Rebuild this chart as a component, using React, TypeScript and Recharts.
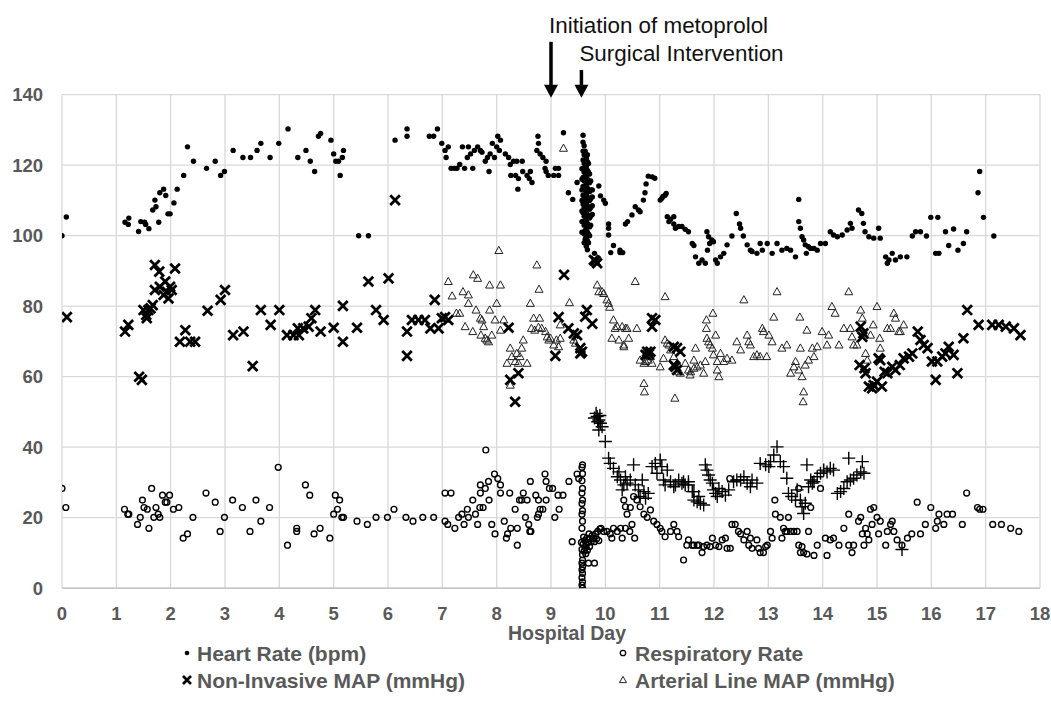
import { ScatterChart, Scatter, XAxis, YAxis, CartesianGrid, ReferenceLine, Legend } from "recharts";

type Pt = [number, number];

const dayTicks = [0, 1, 2, 3, 4, 5, 6, 7, 8, 9, 10, 11, 12, 13, 14, 15, 16, 17, 18];
const valueTicks = [0, 20, 40, 60, 80, 100, 120, 140];

const heartRate: Pt[] = [
  [0, 100], [0.08, 105.3], [1.16, 103.8], [1.22, 103.2], [1.23, 105], [1.41, 101.2], [1.45, 104], [1.52, 103.8],
  [1.54, 103.2], [1.6, 102], [1.67, 107.3], [1.71, 110.1], [1.73, 108.2], [1.78, 103.8], [1.8, 112.2], [1.87, 113.2],
  [1.91, 111.4], [1.95, 106.2], [1.99, 106.2], [2.06, 109.3], [2.12, 113.2], [2.24, 117.1], [2.31, 125.2], [2.42, 121.1],
  [2.66, 119.1], [2.82, 121.1], [2.92, 117.1], [2.99, 118.2], [3.15, 124.2], [3.33, 122.2], [3.47, 122.2], [3.59, 124.2],
  [3.66, 126.2], [3.83, 122.2], [3.99, 126.2], [4.16, 130.3], [4.34, 122.2], [4.49, 124.2], [4.57, 121.1], [4.65, 118.2],
  [4.72, 128.2], [4.76, 129], [4.95, 127.1], [5.0, 123.2], [5.04, 121.1], [5.09, 121.1], [5.12, 117.1], [5.16, 122.2],
  [5.18, 124.2], [5.46, 100], [5.64, 100], [6.13, 127.1], [6.35, 130.3], [6.35, 128.2], [6.76, 128.2], [6.84, 128.2],
  [6.91, 130.3], [6.99, 126.2], [7.05, 124.2], [7.11, 125.2], [7.07, 122.2], [7.16, 119.1], [7.22, 119.1], [7.27, 119.1],
  [7.32, 120.2], [7.37, 125.2], [7.48, 125.2], [7.41, 119.1], [7.56, 119.1], [7.46, 122.2], [7.52, 123.2], [7.59, 124.2],
  [7.65, 125.2], [7.7, 124.2], [7.73, 123.7], [7.79, 121.1], [7.83, 122.2], [7.86, 118.2], [7.88, 123.2], [7.92, 126.2],
  [7.96, 122.2], [8.02, 128.2], [8.07, 127.1], [8.05, 124.2], [8.0, 125.2], [8.16, 123.2], [8.22, 122.2], [8.25, 120.2],
  [8.31, 121.1], [8.37, 121.1], [8.47, 121.1], [8.26, 117.1], [8.35, 117.1], [8.4, 116.2], [8.39, 113.2], [8.48, 118.2],
  [8.56, 117.1], [8.6, 116.2], [8.65, 115.1], [8.62, 118.2], [8.76, 128.2], [8.77, 126.2], [8.74, 124.2], [8.8, 123.2],
  [8.85, 122.2], [8.91, 121.1], [8.89, 119.1], [8.95, 117.1], [8.91, 118.2], [9.05, 117.1], [9.14, 117.1], [9.08, 119.1],
  [9.14, 119.1], [9.23, 129.2], [9.32, 112.2], [9.4, 110.3], [9.48, 115.1],
  [9.88, 114.1], [9.91, 111.3], [9.97, 110.1], [10.0, 109.2], [10.06, 103.3], [10.06, 102.1], [10.06, 100.2], [10.15, 97.2],
  [10.1, 95.2], [10.27, 95.2], [10.32, 95.2], [10.27, 95.9], [10.37, 103.3], [10.41, 104], [10.49, 105.9], [10.55, 108.2],
  [10.61, 107.3], [10.64, 106.8], [10.7, 110.1], [10.73, 112.2], [10.75, 114.7], [10.79, 116.9], [10.86, 116.7], [10.91, 116.3],
  [11.01, 110.1], [11.06, 111.1], [11.1, 111.5], [11.12, 112], [11.04, 110.6], [11.14, 105.4], [11.2, 104.7], [11.26, 105.4],
  [11.26, 103.3], [11.29, 102.1], [11.35, 102.6], [11.41, 102.6], [11.47, 101.8], [11.53, 101.1], [11.17, 104], [11.6, 97.8],
  [11.63, 97.2], [11.66, 94], [11.72, 92.2], [11.78, 93.1], [11.84, 92.2], [11.87, 101.1], [11.9, 99.7], [11.92, 97.8],
  [11.96, 98.8], [11.99, 98.3], [11.88, 95.9], [12.03, 93.1], [12.06, 92.2], [12.12, 94], [12.18, 95], [12.24, 97.4],
  [12.33, 99.9], [12.41, 106.3], [12.47, 103.3], [12.49, 102.1], [12.54, 99.9], [12.61, 97.4], [12.67, 95.9], [12.7, 95.5],
  [12.79, 95], [12.85, 97.8], [12.89, 95.9], [12.98, 97.8], [13.07, 95], [13.16, 97.8], [13.25, 95.9], [13.34, 96.4],
  [13.41, 95.9], [13.5, 94], [13.56, 110.3], [13.56, 104], [13.59, 102.1], [13.62, 99.7], [13.65, 98.8], [13.68, 97.4],
  [13.7, 95], [13.74, 96.9], [13.78, 96.4], [13.84, 96.4], [13.9, 95.9], [13.96, 97.8], [14.05, 97.8], [14.14, 101.1],
  [14.2, 100.2], [14.27, 99.7], [14.36, 100.2], [14.45, 101.6], [14.51, 103.5], [14.54, 102.1], [14.66, 107.3], [14.72, 106.3],
  [14.75, 103.5], [14.78, 101.1], [14.85, 99.7], [14.94, 99.3], [15.03, 102.1], [15.06, 99.3], [15.16, 94], [15.19, 92.2],
  [15.28, 95], [15.34, 93.1], [15.43, 94], [15.55, 94], [15.22, 93.1], [15.65, 99.9], [15.71, 101.1], [15.8, 101.1],
  [15.91, 99.9], [15.99, 105.2], [16.12, 105.2], [16.08, 95], [16.14, 95], [16.26, 101.1], [16.32, 97.2], [16.41, 101.9],
  [16.49, 95.9], [16.59, 97.8], [16.65, 101.1], [16.86, 112.2], [16.89, 118.2], [16.96, 105.2], [17.15, 99.9],
];

// dense readings around the surgery (day ~9.6)
const heartRatePeriOp: Pt[] = [
  [9.57, 101], [9.57, 104], [9.57, 107], [9.57, 110], [9.57, 113], [9.57, 116], [9.57, 119],
  [9.59, 104], [9.59, 106.5], [9.59, 109], [9.59, 111.5], [9.59, 114], [9.59, 116.5], [9.59, 119], [9.59, 121.5], [9.59, 124], [9.59, 126.5], [9.59, 128.5],
  [9.61, 98], [9.61, 100.5], [9.61, 103], [9.61, 105.5], [9.61, 108], [9.61, 110.5], [9.61, 113], [9.61, 115.5], [9.61, 118], [9.61, 120.5], [9.61, 123], [9.61, 125.5],
  [9.63, 99], [9.63, 101.5], [9.63, 104], [9.63, 106.5], [9.63, 109], [9.63, 111.5], [9.63, 114], [9.63, 116.5], [9.63, 119], [9.63, 121.5], [9.63, 124],
  [9.65, 97], [9.65, 99.5], [9.65, 102], [9.65, 104.5], [9.65, 107], [9.65, 109.5], [9.65, 112], [9.65, 114.5], [9.65, 117], [9.65, 119.5], [9.65, 122],
  [9.67, 96], [9.67, 98.5], [9.67, 101], [9.67, 103.5], [9.67, 106], [9.67, 108.5], [9.67, 111], [9.67, 113.5], [9.67, 116], [9.67, 118.5], [9.67, 121], [9.67, 123],
  [9.69, 98], [9.69, 100.5], [9.69, 103], [9.69, 105.5], [9.69, 108], [9.69, 110.5], [9.69, 113], [9.69, 115.5], [9.69, 118], [9.69, 120.5],
  [9.71, 100], [9.71, 102.5], [9.71, 105], [9.71, 107.5], [9.71, 110], [9.71, 112.5], [9.71, 115], [9.71, 117.5],
  [9.73, 103], [9.73, 105.5], [9.73, 108], [9.73, 110.5], [9.73, 113], [9.73, 115.5],
  [9.76, 106], [9.76, 108.5], [9.76, 111], [9.76, 113], [9.8, 93], [9.8, 95],
];

const respiratoryRate: Pt[] = [
  [0, 28.3], [0.07, 22.9], [1.15, 22.4], [1.21, 21], [1.23, 21], [1.39, 18.1], [1.44, 20.1], [1.48, 25], [1.51, 22.9],
  [1.57, 22.4], [1.6, 17], [1.65, 28.3], [1.69, 20.1], [1.73, 22.9], [1.77, 21], [1.8, 20.1], [1.85, 26.4], [1.9, 24.4],
  [1.93, 24.4], [1.98, 26.4], [2.05, 22.4], [2.15, 22.9], [2.23, 14.2], [2.31, 15.4], [2.41, 20.1], [2.65, 27], [2.82, 24.4],
  [2.91, 16.1], [2.99, 20.1], [3.14, 25], [3.32, 22.9], [3.46, 16.1], [3.57, 25], [3.66, 19], [3.82, 22.9], [3.98, 34.3],
  [4.15, 12.2], [4.32, 17], [4.32, 16.1], [4.48, 29.3], [4.56, 26.4], [4.64, 15.4], [4.75, 17], [4.93, 14.2], [5.0, 21],
  [5.03, 26.4], [5.07, 22.4], [5.11, 25], [5.15, 20.1], [5.18, 20.1], [5.43, 19], [5.62, 18.1], [5.78, 20.1], [5.99, 20.1],
  [6.11, 22.4], [6.33, 20.1], [6.46, 19], [6.64, 20.1], [6.84, 20.1], [7.05, 27], [7.16, 27], [7.05, 19], [7.1, 18.1],
  [7.23, 17], [7.3, 20.1], [7.36, 21], [7.4, 18.1], [7.46, 22.4], [7.48, 20.1], [7.56, 25], [7.61, 21], [7.65, 18.1],
  [7.7, 27], [7.7, 29.3], [7.69, 22.9], [7.75, 22.9], [7.79, 28.3], [7.8, 39.2], [7.85, 30.3], [7.86, 25], [7.91, 18.1],
  [7.96, 32.4], [7.97, 15.4], [8.02, 31.1], [8.07, 29.3], [8.07, 27], [8.14, 19], [8.18, 14.2], [8.2, 15.4], [8.24, 27],
  [8.26, 17], [8.34, 22.4], [8.38, 17], [8.38, 12.2], [8.42, 25], [8.46, 25], [8.49, 27], [8.53, 20.1], [8.56, 25],
  [8.59, 18.1], [8.61, 16.1], [8.63, 16.1], [8.62, 30.3], [8.72, 26.4], [8.75, 20.1], [8.77, 25], [8.77, 21], [8.8, 22.4],
  [8.85, 22.4], [8.89, 32.4], [8.91, 30.3], [8.91, 25], [8.97, 28.3], [9.03, 28.3], [9.07, 20.1], [9.13, 26.4], [9.15, 22.4],
  [9.22, 26.4], [9.33, 30.3], [9.39, 13.2], [9.48, 32.4], [9.51, 31.1],
  [9.58, 35], [9.57, 34.3], [9.58, 32.5], [9.57, 30.5], [9.58, 28.3], [9.57, 27], [9.58, 25], [9.57, 24], [9.58, 22],
  [9.57, 21], [9.58, 19], [9.57, 17], [9.58, 8], [9.57, 7.1], [9.58, 6.1], [9.57, 5.2], [9.58, 4.2], [9.57, 3],
  [9.58, 1.8], [9.57, 0.9], [9.58, 0],
  [9.56, 13], [9.57, 11], [9.58, 9.5], [9.59, 12.5], [9.6, 14.5], [9.61, 10.5], [9.62, 13.5], [9.63, 11.5], [9.64, 9.8],
  [9.65, 12.3], [9.66, 14.2], [9.67, 10.8], [9.68, 13], [9.7, 15.4], [9.71, 11.8], [9.72, 14], [9.74, 13.2], [9.76, 15],
  [9.78, 14.2], [9.8, 13.2], [9.82, 15.4], [9.84, 14], [9.86, 16.1], [9.88, 13.5], [9.69, 7.1], [9.8, 7.1], [9.9, 16.8],
  [9.92, 17], [9.97, 16.1], [10.03, 16.1], [10.09, 15.4], [10.12, 14.2], [10.15, 17], [10.22, 16.1], [10.28, 17], [10.31, 14.2],
  [10.37, 17], [10.45, 16.1], [10.49, 18.1], [10.54, 14.2], [10.34, 25], [10.37, 23.1], [10.4, 21], [10.46, 22.9], [10.52, 26],
  [10.58, 25], [10.64, 23.1], [10.71, 21], [10.77, 20.1], [10.83, 22.2], [10.89, 19], [10.95, 18.1], [11.01, 17], [11.04, 16.1],
  [11.1, 14.6], [11.2, 16.1], [11.26, 18.1], [11.32, 16.1], [11.35, 14.6], [11.44, 8], [11.5, 12.2], [11.6, 12.2], [11.69, 12.2],
  [11.53, 13.7], [11.63, 12.2], [11.72, 12.2], [11.78, 10.1], [11.81, 11.8], [11.87, 12.2], [11.93, 11.8], [11.97, 14.2],
  [12.03, 12.2], [12.09, 11.8], [12.15, 13.7], [12.21, 14.2], [12.24, 11.3], [12.29, 31.1], [12.3, 11.3], [12.33, 18.1],
  [12.39, 18.1], [12.45, 16.1], [12.49, 15.4], [12.55, 13.7], [12.61, 16.1], [12.64, 12.2], [12.67, 14.2], [12.7, 11.3],
  [12.79, 13.7], [12.82, 11.3], [12.85, 10.1], [12.91, 10.1], [12.95, 11.8], [12.98, 12.2], [13.04, 16.1], [13.07, 14.2],
  [13.12, 25], [13.13, 21], [13.22, 20.1], [13.25, 14.2], [13.28, 17], [13.31, 16.1], [13.34, 16.1], [13.37, 20.1],
  [13.41, 16.1], [13.47, 16.1], [13.53, 16.1], [13.56, 28.3], [13.56, 12.2], [13.59, 10.1], [13.62, 11.8], [13.65, 10.1],
  [13.71, 9.7], [13.74, 16.1], [13.78, 22.9], [13.84, 9.3], [13.9, 12.2], [13.96, 28.3], [14.05, 14.2], [14.08, 9.3],
  [14.14, 13.7], [14.2, 14.2], [14.3, 12.2], [14.39, 17], [14.48, 21], [14.48, 12.2], [14.54, 10.1], [14.57, 12.2],
  [14.66, 19], [14.7, 20.1], [14.73, 15.4], [14.76, 12.2], [14.79, 17], [14.82, 15.4], [14.85, 13.7], [14.88, 22.4],
  [14.91, 18.1], [14.94, 22.9], [15.0, 20.1], [15.03, 15.4], [15.06, 19], [15.16, 12.2], [15.19, 16.1], [15.25, 18.1],
  [15.28, 19], [15.31, 16.1], [15.37, 13.7], [15.46, 12.2], [15.56, 14.2], [15.64, 15.4], [15.74, 24.4], [15.8, 15.4],
  [15.89, 18.1], [15.99, 22.9], [16.08, 17], [16.11, 19], [16.14, 21], [16.23, 18.1], [16.29, 21], [16.39, 21],
  [16.57, 18.1], [16.65, 27], [16.85, 22.9], [16.89, 22.4], [16.95, 22.4], [17.13, 18.1], [17.29, 18.1], [17.46, 17],
  [17.61, 16.1],
];

const nonInvasiveMap: Pt[] = [
  [0.09, 76.9], [1.16, 72.8], [1.22, 74.7], [1.42, 60], [1.47, 59.1], [1.5, 78.9], [1.55, 77.5], [1.59, 78.9], [1.56, 76.6],
  [1.63, 79.4], [1.67, 80.3], [1.71, 91.7], [1.79, 89.8], [1.71, 84.6], [1.8, 85.5], [1.87, 83.2], [1.93, 84.1], [1.96, 82.2],
  [1.99, 85.5], [2.02, 84.6], [2.08, 90.7], [1.9, 87], [2.17, 69.9], [2.27, 73.2], [2.36, 69.9], [2.45, 69.9], [2.68, 78.7],
  [2.92, 81.8], [3.0, 84.6], [3.15, 71.8], [3.34, 72.8], [3.51, 63], [3.66, 78.9], [3.84, 74.7], [4.0, 78.9], [4.14, 71.8],
  [4.26, 71.8], [4.34, 73.7], [4.36, 71.8], [4.44, 73.7], [4.54, 74.2], [4.59, 76.6], [4.66, 78.9], [4.76, 72.8], [5.0, 73.9],
  [5.17, 80.1], [5.17, 69.9], [5.43, 73.9], [5.64, 87], [5.78, 78.9], [5.92, 76.1], [6.01, 87.9], [6.13, 110.1], [6.35, 72.8],
  [6.35, 65.9], [6.44, 76.1], [6.56, 76.1], [6.68, 76.1], [6.78, 73.7], [6.86, 81.8], [6.93, 73.7], [6.99, 76.6], [7.05, 76.9],
  [7.11, 76.1], [8.22, 73.9], [8.25, 59.1], [8.4, 61], [8.34, 52.9], [9.08, 65.9], [9.14, 76.9], [9.24, 88.9], [9.32, 73.7],
  [9.42, 72.3], [9.48, 71.8], [9.54, 68.1], [9.57, 67.1], [9.54, 66.6], [9.66, 78.9], [9.63, 77], [9.76, 75], [9.79, 93.1],
  [9.85, 92.2], [9.82, 92.8], [10.86, 76.6], [10.86, 74.2], [10.92, 76.1], [10.77, 67.1], [10.8, 66.4], [10.83, 67.1],
  [10.74, 66.2], [11.26, 68.5], [11.32, 68.1], [11.38, 67.1], [11.29, 62.8], [11.32, 61.9], [11.26, 63.3],
  [14.7, 74.2], [14.75, 72.3], [14.73, 71.3], [14.68, 63.3], [14.77, 62.4], [14.79, 61], [14.85, 57.2], [14.91, 56.7],
  [14.94, 57.6], [15.0, 58.6], [15.03, 65.2], [15.09, 57.2], [15.06, 64.7], [15.14, 61.4], [15.19, 61], [15.28, 62.8],
  [15.34, 61.9], [15.42, 63.3], [15.49, 65.2], [15.59, 65.7], [15.65, 66.6], [15.75, 72.8], [15.8, 70.4], [15.86, 69],
  [15.93, 68.1], [16.01, 64.3], [16.08, 59.1], [16.11, 64.3], [16.2, 65.7], [16.26, 66.6], [16.32, 68.5], [16.41, 66.2],
  [16.48, 61], [16.59, 70.9], [16.66, 78.9], [16.87, 74.7], [17.12, 74.7], [17.24, 74.7], [17.37, 74.2], [17.52, 73.7],
  [17.64, 71.8],
];

const arterialLineMap: Pt[] = [
  [7.11, 87], [7.18, 82.9], [7.26, 78], [7.32, 78], [7.38, 84.1], [7.42, 74.2], [7.48, 83.2], [7.48, 80.8], [7.56, 72.8],
  [7.57, 88.9], [7.65, 87.9], [7.62, 78.9], [7.7, 76.6], [7.73, 76.1], [7.76, 74.2], [7.71, 71.8], [7.79, 70.9], [7.82, 70.4],
  [7.85, 69.9], [7.87, 86], [7.87, 78.9], [7.91, 71.8], [7.97, 76.1], [8.0, 80.8], [8.07, 86], [8.04, 95.8], [8.07, 73.2],
  [8.13, 76.1], [8.25, 68.1], [8.28, 65.7], [8.37, 66.6], [8.4, 63.8], [8.43, 65.7], [8.46, 68.1], [8.49, 70.4], [8.56, 63.8],
  [8.19, 63.8], [8.34, 64.3], [8.25, 57.6], [8.62, 80.8], [8.64, 73.7], [8.68, 76.6], [8.7, 73.2], [8.77, 74], [8.79, 76.6],
  [8.83, 73.7], [8.9, 72.8], [8.93, 71.3], [8.96, 70.4], [8.99, 70.9], [9.05, 69], [9.1, 70.4], [9.14, 68.5], [9.17, 70.9],
  [9.17, 74.7], [8.74, 91.7], [8.78, 84.8], [9.23, 124.8], [9.34, 81], [9.42, 70.4], [9.45, 69.5], [9.85, 86], [9.88, 84.1],
  [9.94, 84.1], [9.97, 83.6], [10.03, 81.8], [10.06, 80.8], [10.08, 79.7], [10.15, 76.1], [10.18, 73.7], [10.22, 74.2],
  [10.31, 74.2], [10.37, 73.7], [10.4, 73.7], [10.12, 70.9], [10.25, 70.4], [10.34, 69], [10.43, 70.9], [10.55, 87],
  [10.58, 73.7], [10.34, 68.5], [10.64, 64.7], [10.71, 63.8], [10.74, 64.3], [10.71, 58.1], [10.72, 55.7], [10.79, 64.7],
  [10.86, 63.8], [10.83, 65.7], [11.01, 62.8], [11.07, 65.2], [11.1, 70.4], [11.1, 82.7], [11.14, 69.5], [11.17, 69],
  [11.2, 67.6], [11.26, 65.7], [11.28, 53.9], [11.32, 63.8], [11.35, 61.4], [11.38, 61], [11.47, 63.8], [11.53, 61.9],
  [11.56, 60.5], [11.63, 62.4], [11.69, 62.8], [11.66, 68.1], [11.63, 64.7], [11.57, 61.4], [11.75, 63.3], [11.81, 61],
  [11.84, 64.3], [11.86, 76.1], [11.86, 73.7], [11.87, 70.9], [11.9, 69.9], [11.93, 69], [11.97, 68.1], [11.98, 78],
  [11.99, 66.2], [12.03, 71.8], [12.06, 64.3], [12.06, 61.9], [12.09, 60], [12.12, 66.6], [12.18, 64.3], [12.24, 65.2],
  [12.33, 64.7], [12.42, 69.9], [12.49, 67.6], [12.55, 81.8], [12.61, 71.8], [12.64, 69.9], [12.67, 69], [12.73, 65.7],
  [12.79, 66.2], [12.85, 65.7], [12.89, 73.7], [12.91, 72.8], [12.97, 65.7], [13.01, 71.8], [13.07, 69.9], [13.1, 76.9],
  [13.16, 84.1], [13.25, 68.1], [13.34, 69], [13.41, 61], [13.47, 62.8], [13.5, 64.3], [13.56, 61.9], [13.58, 76.9],
  [13.59, 68.1], [13.62, 60], [13.65, 55.7], [13.64, 52.9], [13.68, 63.3], [13.71, 73.2], [13.74, 64.7], [13.81, 68.1],
  [13.84, 65.7], [13.9, 68.5], [13.99, 72.8], [14.08, 69], [14.11, 71.8], [14.17, 79.9], [14.23, 78], [14.3, 69],
  [14.39, 73.7], [14.48, 84.1], [14.51, 73.7], [14.54, 71.3], [14.57, 69], [14.63, 69], [14.7, 78.9], [14.73, 76.6],
  [14.79, 66.6], [14.82, 64.7], [14.88, 71.8], [14.93, 74.7], [15.0, 79.9], [15.05, 70.9], [15.06, 68.1], [15.19, 73.7],
  [15.25, 73.7], [15.31, 78], [15.34, 76.6], [15.4, 72.8], [15.43, 72.8], [15.49, 74.7],
];

// "+" series that has no legend entry
const unlabeledPlus: Pt[] = [
  [9.83, 49.6], [9.85, 48.7], [9.88, 47.7], [9.91, 46.8], [9.94, 45.8], [9.88, 44.9], [9.8, 48.3], [9.86, 47.2], [9.9, 49],
  [10.0, 41.6], [10.06, 36.9], [10.09, 35.4], [10.15, 34], [10.22, 31.6], [10.25, 33], [10.28, 30.7], [10.34, 29.3],
  [10.37, 31.6], [10.4, 29.8], [10.31, 27.9], [10.46, 30.7], [10.52, 35], [10.55, 29.3], [10.61, 27.9], [10.64, 26],
  [10.68, 30.7], [10.71, 27.4], [10.74, 25.5], [10.79, 26.9], [10.86, 34.5], [10.92, 35.4], [10.95, 32.6], [11.01, 36.4],
  [11.04, 34.5], [11.07, 30.7], [11.1, 29.3], [11.14, 33.5], [11.2, 30.2], [11.26, 28.8], [11.29, 29.3], [11.35, 30.7],
  [11.41, 29.8], [11.47, 29.3], [11.53, 30.2], [11.6, 27.4], [11.63, 25], [11.69, 24.5], [11.44, 30.2], [11.53, 29.3],
  [11.63, 27.4], [11.72, 26], [11.75, 24.1], [11.81, 23.6], [11.84, 35], [11.87, 33.5], [11.9, 32.1], [11.93, 30.7],
  [11.97, 29.8], [11.99, 27.9], [12.03, 26.9], [12.06, 26], [12.09, 28.3], [12.15, 27.4], [12.21, 26.4], [12.27, 27.9],
  [12.36, 30.2], [12.42, 30.7], [12.49, 30.7], [12.55, 31.6], [12.61, 29.8], [12.67, 28.8], [12.7, 30.7], [12.79, 29.8],
  [12.85, 35.4], [12.95, 35], [13.01, 34.5], [13.04, 35.9], [13.1, 37.8], [13.16, 40.1], [13.22, 35.9], [13.28, 34.5],
  [13.34, 31.2], [13.37, 26.9], [13.43, 26], [13.5, 25], [13.53, 27.9], [13.59, 25], [13.62, 23.1], [13.65, 21.2],
  [13.68, 24.1], [13.71, 35], [13.74, 28.8], [13.78, 30.7], [13.81, 29.8], [13.84, 30.2], [13.9, 31.6], [13.96, 32.6],
  [14.02, 33.5], [14.08, 33], [14.14, 34], [14.2, 33.5], [14.27, 26.9], [14.33, 27.4], [14.39, 28.3], [14.45, 30.2],
  [14.48, 36.9], [14.51, 30.7], [14.57, 31.2], [14.63, 32.1], [14.7, 33], [14.73, 35.9], [14.76, 32.6], [15.46, 11],
];

const events = [
  { day: 9, top: 155, label: "Initiation of metoprolol" },
  { day: 9.56, top: 147, label: "Surgical Intervention" },
];

const legendItems = [
  { name: "Heart Rate (bpm)", kind: "dot" },
  { name: "Respiratory Rate", kind: "ring" },
  { name: "Non-Invasive MAP (mmHg)", kind: "cross" },
  { name: "Arterial Line MAP (mmHg)", kind: "tri" },
];

const FONT = "'Liberation Sans', Arial, sans-serif";
const AXIS_GRAY = "#595959";

const toRows = (pts: Pt[]) => pts.map(([day, value]) => ({ day, value }));

const dotShape = (p: any) => <circle cx={p.cx} cy={p.cy} r={2.7} fill="#000" />;
const ringShape = (p: any) => <circle cx={p.cx} cy={p.cy} r={2.9} fill="none" stroke="#000" strokeWidth={1.4} />;
const crossShape = (p: any) => {
  const s = 4.8;
  return (
    <path
      d={`M${p.cx - s},${p.cy - s}L${p.cx + s},${p.cy + s}M${p.cx - s},${p.cy + s}L${p.cx + s},${p.cy - s}`}
      stroke="#000"
      strokeWidth={2.8}
    />
  );
};
const triShape = (p: any) => (
  <polygon
    points={`${p.cx},${p.cy - 4.2} ${p.cx - 4},${p.cy + 3} ${p.cx + 4},${p.cy + 3}`}
    fill="none"
    stroke="#222"
    strokeWidth={1}
  />
);
const plusShape = (p: any) => {
  const s = 6.5;
  return (
    <path d={`M${p.cx - s},${p.cy}H${p.cx + s}M${p.cx},${p.cy - s}V${p.cy + s}`} stroke="#000" strokeWidth={1.4} />
  );
};

function EventArrow(props: any) {
  const { x1, y1, y2, text } = props;
  const top = Math.min(y1, y2);
  const tip = Math.max(y1, y2) + 3;
  return (
    <g>
      <line x1={x1} y1={top} x2={x1} y2={tip - 12} stroke="#000" strokeWidth={3.5} />
      <polygon points={`${x1 - 7},${tip - 13} ${x1 + 7},${tip - 13} ${x1},${tip}`} fill="#000" />
      <text x={x1 - 2} y={top - 9} fontSize={22.4} fontFamily={FONT} fill="#111">
        {text}
      </text>
    </g>
  );
}

function LegendMarker({ kind, x, y }: { kind: string; x: number; y: number }) {
  if (kind === "dot") return <circle cx={x} cy={y} r={2.3} fill="#000" />;
  if (kind === "ring") return <circle cx={x} cy={y} r={2.7} fill="none" stroke="#000" strokeWidth={1.3} />;
  if (kind === "cross") {
    const s = 4;
    return (
      <path d={`M${x - s},${y - s}L${x + s},${y + s}M${x - s},${y + s}L${x + s},${y - s}`} stroke="#000" strokeWidth={2.6} />
    );
  }
  return <polygon points={`${x},${y - 3.6} ${x - 3.5},${y + 2.6} ${x + 3.5},${y + 2.6}`} fill="none" stroke="#222" strokeWidth={1} />;
}

function ChartLegend() {
  return (
    <svg width={1051} height={80}>
      {legendItems.map((item, i) => {
        const col = i % 2;
        const row = Math.floor(i / 2);
        const y = 15 + row * 27;
        return (
          <g key={item.name}>
            <LegendMarker kind={item.kind} x={col === 0 ? 187 : 623} y={y} />
            <text x={col === 0 ? 197 : 635} y={y + 7.5} fontSize={21} fontWeight={700} fontFamily={FONT} fill={AXIS_GRAY}>
              {item.name}
            </text>
          </g>
        );
      })}
    </svg>
  );
}

export default function App() {
  const tickStyle = { fontSize: 18.5, fontWeight: 700, fill: AXIS_GRAY, fontFamily: FONT };
  return (
    <div style={{ position: "absolute", left: 0, top: 0, width: 1051, height: 720, background: "#fff" }}>
      <ScatterChart width={1051} height={720} margin={{ top: 94.7, right: 11, bottom: 101.8, left: 12 }}>
        <CartesianGrid stroke="#d9d9d9" strokeWidth={1.3} />
        <XAxis
          type="number"
          dataKey="day"
          domain={[0, 18]}
          ticks={dayTicks}
          interval={0}
          height={30}
          axisLine={{ stroke: "#bfbfbf", strokeWidth: 1.3 }}
          tickLine={false}
          tickSize={0}
          tickMargin={19}
          tick={tickStyle}
          allowDataOverflow
          label={{
            content: ({ viewBox }: any) => (
              <text
                x={viewBox.x + viewBox.width / 2 + 16}
                y={viewBox.y + viewBox.height + 22}
                textAnchor="middle"
                fontSize={19.5}
                fontWeight={700}
                fontFamily={FONT}
                fill={AXIS_GRAY}
              >
                Hospital Day
              </text>
            ),
          }}
        />
        <YAxis
          type="number"
          dataKey="value"
          domain={[0, 140]}
          ticks={valueTicks}
          interval={0}
          width={50}
          axisLine={false}
          tickLine={false}
          tickSize={0}
          tickMargin={19}
          tick={tickStyle}
          allowDataOverflow
        />
        <Legend
          layout="horizontal"
          verticalAlign="middle"
          align="center"
          wrapperStyle={{ top: 638, left: 0, width: 1051, height: 80 }}
          content={() => <ChartLegend />}
        />
        <Scatter name="Heart Rate (bpm)" data={toRows([...heartRate, ...heartRatePeriOp])} shape={dotShape} isAnimationActive={false} />
        <Scatter name="Respiratory Rate" data={toRows(respiratoryRate)} shape={ringShape} isAnimationActive={false} />
        <Scatter name="Arterial Line MAP (mmHg)" data={toRows(arterialLineMap)} shape={triShape} isAnimationActive={false} />
        <Scatter name="Non-Invasive MAP (mmHg)" data={toRows(nonInvasiveMap)} shape={crossShape} isAnimationActive={false} />
        <Scatter name="Unlabeled" data={toRows(unlabeledPlus)} shape={plusShape} legendType="none" isAnimationActive={false} />
        {events.map((ev) => (
          <ReferenceLine
            key={ev.label}
            segment={[{ x: ev.day, y: ev.top }, { x: ev.day, y: 140 }]}
            ifOverflow="visible"
            shape={(p: any) => <EventArrow {...p} text={ev.label} />}
          />
        ))}
      </ScatterChart>
    </div>
  );
}
